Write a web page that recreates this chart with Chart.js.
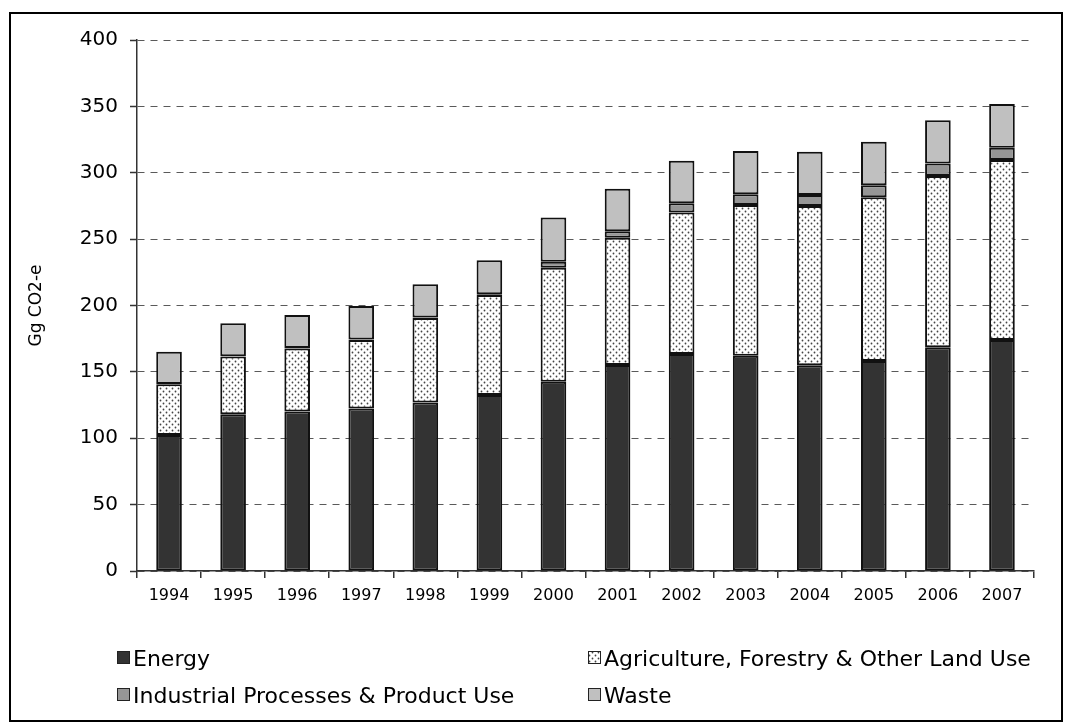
<!DOCTYPE html>
<html>
<head>
<meta charset="utf-8">
<script src="https://cdn.jsdelivr.net/npm/chart.js@4/dist/chart.umd.min.js"></script>
<style>
  body { margin: 0; background: #fff; }
  #frame { position: absolute; left: 9px; top: 12px; width: 1050px; height: 706px; border: 2px solid #000; }
  #wrap { position: absolute; left: 0; top: 0; width: 1071px; height: 728px; }
</style>
</head>
<body>
<div id="frame"></div>
<div id="wrap"><canvas id="chart" width="1071" height="728"></canvas></div>
<script>
const years = ['1994', '1995', '1996', '1997', '1998', '1999', '2000', '2001', '2002', '2003', '2004', '2005', '2006', '2007'];
const energy = [102.5, 118, 120.2, 122.4, 127, 132.6, 142.6, 155.2, 163.5, 162.2, 155, 158.2, 168.5, 174];
const agriculture = [38.1, 43.5, 47.5, 51.6, 63.5, 75.4, 85.9, 95.8, 106.5, 113.5, 120, 123.3, 129, 135.6];
const industrial = [0.2, 0.2, 0.3, 0.3, 0.4, 0.5, 4.5, 4.9, 7, 8.1, 8.2, 9, 9.5, 9.3];
const waste = [24.4, 25, 24.8, 25.3, 25.1, 25.5, 33.2, 32.1, 32, 32.6, 32.7, 32.9, 32.5, 32.9];
const yMax = 400;
const yStep = 50;

const FONT = '"DejaVu Sans", Verdana, sans-serif';

function dotPattern() {
    const c = document.createElement('canvas');
    c.width = 6;
    c.height = 6;
    const g = c.getContext('2d');
    g.fillStyle = '#fff';
    g.fillRect(0, 0, 6, 6);
    g.fillStyle = '#444';
    g.beginPath();
    g.arc(1.5, 1.5, 0.9, 0, Math.PI * 2);
    g.arc(4.5, 4.5, 0.9, 0, Math.PI * 2);
    g.fill();
    return g.createPattern(c, 'repeat');
}

// legend drawn in two columns under the plot, like the original
const gridLegend = {
    id: 'gridLegend',
    afterDraw(chart) {
        const ctx = chart.ctx;
        const area = chart.chartArea;
        ctx.save();
        ctx.font = '22px ' + FONT;
        ctx.textBaseline = 'alphabetic';
        chart.data.datasets.forEach((ds, i) => {
            const col = i % 2;
            const row = Math.floor(i / 2);
            const x = area.left - 20 + col * 471;
            const y = area.bottom + 95 + row * 37;
            ctx.fillStyle = ds.backgroundColor;
            ctx.fillRect(x, y - 15, 13, 13);
            ctx.strokeStyle = '#222';
            ctx.lineWidth = 1;
            ctx.strokeRect(x + 0.5, y - 14.5, 12, 12);
            ctx.fillStyle = '#000';
            ctx.fillText(ds.label, x + 16, y);
        });
        ctx.restore();
    }
};

const barStyle = {
    borderColor: '#111',
    borderWidth: 2,
    borderSkipped: false,
    barPercentage: 0.4,
    categoryPercentage: 1.0,
    stack: 'all'
};

new Chart(document.getElementById('chart').getContext('2d'), {
    type: 'bar',
    data: {
        labels: years,
        datasets: [
            { label: 'Energy', data: energy, backgroundColor: '#333333', ...barStyle },
            { label: 'Agriculture, Forestry & Other Land Use', data: agriculture, backgroundColor: dotPattern(), ...barStyle },
            { label: 'Industrial Processes & Product Use', data: industrial, backgroundColor: '#969696', ...barStyle },
            { label: 'Waste', data: waste, backgroundColor: '#c0c0c0', ...barStyle }
        ]
    },
    options: {
        responsive: false,
        animation: false,
        layout: { padding: { left: 22, right: 37, top: 40, bottom: 117 } },
        plugins: {
            legend: { display: false },
            tooltip: { enabled: false }
        },
        scales: {
            x: {
                stacked: true,
                afterFit: s => { s.height = 40; },
                grid: { drawOnChartArea: false, drawTicks: true, tickLength: 7, color: '#333', lineWidth: 1.5 },
                border: { color: '#333', width: 1.5 },
                ticks: { color: '#000', padding: 8, maxRotation: 0, font: { family: FONT, size: 16 } }
            },
            y: {
                stacked: true,
                min: 0,
                max: yMax,
                afterFit: s => { s.width = 115; },
                ticks: { stepSize: yStep, color: '#000', padding: 12, font: { family: FONT, size: 20 } },
                grid: { color: '#5a5a5a', lineWidth: 1, tickLength: 7, tickColor: '#333', tickWidth: 1.5, tickBorderDash: [] },
                border: { color: '#333', width: 1.5, dash: [7, 6] },
                title: { display: true, text: 'Gg CO2-e', color: '#000', padding: { top: 4, bottom: 4 }, font: { family: FONT, size: 17 } }
            }
        }
    },
    plugins: [gridLegend]
});
</script>
</body>
</html>
